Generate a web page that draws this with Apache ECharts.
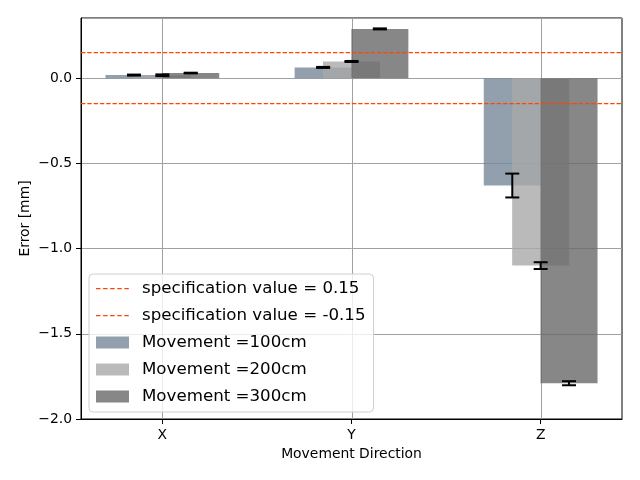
<!DOCTYPE html>
<html lang="en">
<head>
    <meta charset="UTF-8">
    <title>Movement error</title>
    <script src="https://cdn.jsdelivr.net/npm/echarts@6/dist/echarts.min.js"></script>
    <style>
        html, body { margin: 0; padding: 0; background: #fff; }
        #chart { width: 640px; height: 480px; }
    </style>
</head>
<body>
    <div id="chart"></div>
    <script>
        // data
        const categories = ['X', 'Y', 'Z'];
        const mean100 = [0.018, 0.063, -0.63];
        const mean200 = [0.017, 0.098, -1.10];
        const mean300 = [0.030, 0.289, -1.79];
        const err100 = [0.003, 0.003, 0.07];
        const err200 = [0.005, 0.003, 0.02];
        const err300 = [0.002, 0.003, 0.012];
        const specValues = [0.15, -0.15];
        const seriesNames = ['Movement =100cm', 'Movement =200cm', 'Movement =300cm'];

        // bar offsets inside a group (in x units), bar width 0.3
        const offsets = [-0.15, 0, 0.15];
        const colors = ['rgba(119,136,153,0.8)', 'rgba(169,169,169,0.8)', 'rgba(105,105,105,0.8)'];
        const legendColors = ['#929fad', '#bababa', '#878787'];
        const means = [mean100, mean200, mean300];
        const errs = [err100, err200, err300];
        const specColor = '#ff4500';
        // dashed legend icon, tiny corner dots keep the 33x12 box
        const dashIcon = 'path://M0,0h0.01v0.01h-0.01z M33,12h0.01v0.01h-0.01z ' +
            'M0,5.4h4.4v1.3h-4.4z M7.1,5.4h4.4v1.3h-4.4z M14.2,5.4h4.4v1.3h-4.4z ' +
            'M21.3,5.4h4.4v1.3h-4.4z M28.4,5.4h4.4v1.3h-4.4z';

        const chart = echarts.init(document.getElementById('chart'), null, { renderer: 'canvas' });
        const font = 'DejaVu Sans';
        const tickSize = 13.9;

        const series = [];
        // vertical grid lines at group centres
        series.push({
            type: 'custom',
            silent: true,
            z: 1,
            data: categories.map((c, i) => [i, 0]),
            renderItem: function (params, api) {
                const cs = params.coordSys;
                const x = Math.round(api.coord([api.value(0), 0])[0]) + 0.5;
                return {
                    type: 'line',
                    shape: { x1: x, y1: cs.y, x2: x, y2: cs.y + cs.height },
                    style: { stroke: '#a0a0a0', lineWidth: 1 }
                };
            }
        });
        // spec lines (legend entries come first)
        specValues.forEach(v => {
            series.push({
                name: 'specification value = ' + v,
                type: 'custom',
                silent: true,
                z: 6,
                color: specColor,
                itemStyle: { color: specColor },
                data: [[0, v]],
                renderItem: function (params, api) {
                    const cs = params.coordSys;
                    const y = api.coord([0, api.value(1)])[1];
                    return {
                        type: 'line',
                        shape: { x1: cs.x, y1: y, x2: cs.x + cs.width, y2: y },
                        style: { stroke: specColor, lineWidth: 1.2, lineDash: [4.4, 1.9] }
                    };
                }
            });
        });
        // bars
        means.forEach((m, s) => {
            series.push({
                name: seriesNames[s],
                type: 'bar',
                barWidth: 57,
                barGap: '-100%',
                color: legendColors[s],
                itemStyle: { color: colors[s] },
                data: m.map((v, i) => [i + offsets[s], v]),
                z: 2 + s
            });
        });
        // error bars
        means.forEach((m, s) => {
            series.push({
                type: 'custom',
                silent: true,
                z: 10,
                data: m.map((v, i) => [i + offsets[s], v - errs[s][i], v + errs[s][i]]),
                renderItem: function (params, api) {
                    const x = api.value(0);
                    const lo = api.coord([x, api.value(1)]);
                    const hi = api.coord([x, api.value(2)]);
                    const cap = 7;
                    const style = { stroke: '#000', lineWidth: 2 };
                    return {
                        type: 'group',
                        children: [
                            { type: 'line', shape: { x1: lo[0], y1: lo[1], x2: hi[0], y2: hi[1] }, style: style },
                            { type: 'line', shape: { x1: lo[0] - cap, y1: lo[1], x2: lo[0] + cap, y2: lo[1] }, style: style },
                            { type: 'line', shape: { x1: hi[0] - cap, y1: hi[1], x2: hi[0] + cap, y2: hi[1] }, style: style }
                        ]
                    };
                }
            });
        });

        chart.setOption({
            animation: false,
            backgroundColor: '#fff',
            grid: {
                left: 81, right: 18, top: 18, bottom: 61,
                show: true, borderColor: '#000', borderWidth: 1, backgroundColor: 'transparent'
            },
            xAxis: {
                type: 'value',
                min: -0.43,
                max: 2.43,
                name: 'Movement Direction',
                nameLocation: 'middle',
                nameGap: 28,
                nameTextStyle: { fontFamily: font, fontSize: tickSize, color: '#000' },
                axisLine: { show: true, onZero: false, lineStyle: { color: '#000' } },
                axisTick: { show: true, length: 5, lineStyle: { color: '#000' }, customValues: [0, 1, 2] },
                axisLabel: {
                    customValues: [0, 1, 2],
                    formatter: v => categories[Math.round(v)],
                    fontFamily: font, fontSize: tickSize, color: '#000', margin: 9
                },
                splitLine: { show: false }
            },
            yAxis: {
                type: 'value',
                min: -2.0,
                max: 0.353,
                interval: 0.5,
                name: 'Error [mm]',
                nameLocation: 'middle',
                nameGap: 49,
                nameMoveOverlap: false,
                nameTextStyle: { fontFamily: font, fontSize: tickSize, color: '#000' },
                axisLine: { show: true, onZero: false, lineStyle: { color: '#000' } },
                axisTick: { show: true, length: 5, lineStyle: { color: '#000' } },
                axisLabel: {
                    showMaxLabel: false,
                    formatter: v => (v < 0 ? '\u2212' : '') + Math.abs(v).toFixed(1),
                    fontFamily: font, fontSize: tickSize, color: '#000', margin: 9
                },
                splitLine: { show: true, lineStyle: { color: '#a0a0a0', width: 1 } }
            },
            legend: {
                orient: 'vertical',
                left: 89,
                top: 274,
                padding: [6, 8, 7, 7],
                itemGap: 10,
                itemWidth: 33,
                itemHeight: 12,
                backgroundColor: 'rgba(255,255,255,0.8)',
                borderColor: '#d0d0d0',
                borderWidth: 1,
                borderRadius: 4,
                textStyle: { fontFamily: font, fontSize: 16.67, color: '#000', padding: [0, 0, 0, 8] },
                data: [
                    { name: 'specification value = 0.15', icon: dashIcon, itemStyle: { color: specColor } },
                    { name: 'specification value = -0.15', icon: dashIcon, itemStyle: { color: specColor } },
                    { name: seriesNames[0], icon: 'rect' },
                    { name: seriesNames[1], icon: 'rect' },
                    { name: seriesNames[2], icon: 'rect' }
                ]
            },
            series: series
        });
    </script>
</body>
</html>
